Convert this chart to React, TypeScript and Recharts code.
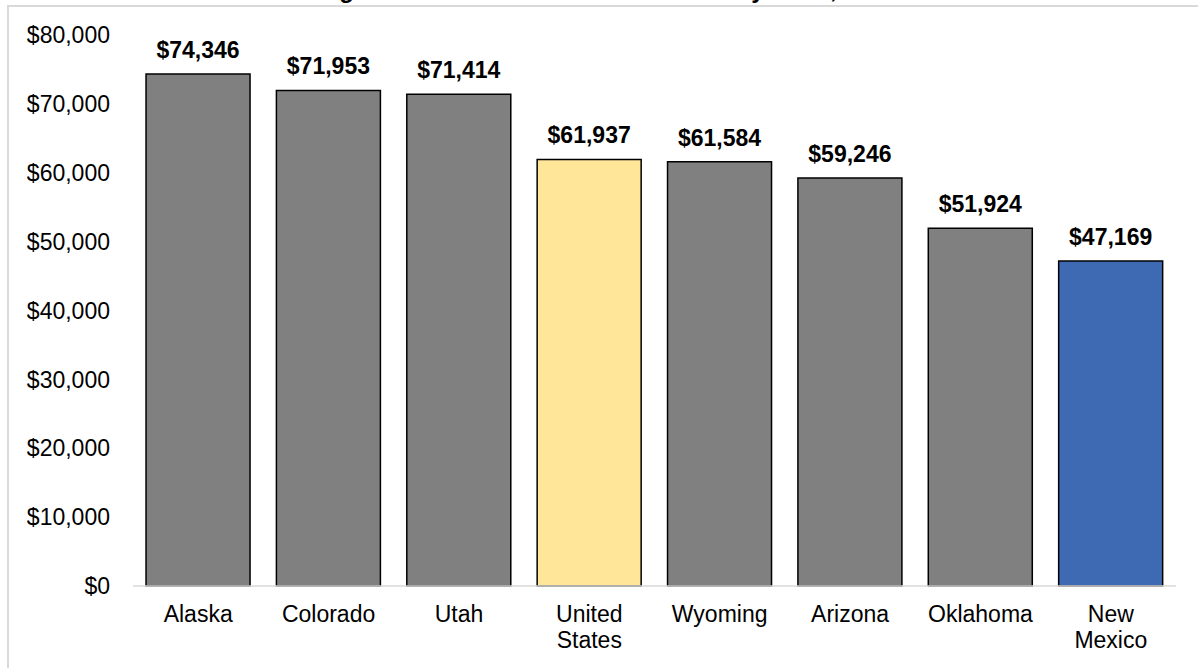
import { BarChart, Bar, XAxis, YAxis, Cell, LabelList } from "recharts";

const states = [
  "Alaska",
  "Colorado",
  "Utah",
  "United States",
  "Wyoming",
  "Arizona",
  "Oklahoma",
  "New Mexico",
];
const incomes = [74346, 71953, 71414, 61937, 61584, 59246, 51924, 47169];
const barColors = [
  "#808080",
  "#808080",
  "#808080",
  "#FFE699",
  "#808080",
  "#808080",
  "#808080",
  "#3E6AB3",
];
const yTicks = [0, 10000, 20000, 30000, 40000, 50000, 60000, 70000, 80000];
const title = "Figure 1: Median Household Income by State, 2018";

const FONT = '"Liberation Sans", Arial, sans-serif';

const data = states.map((name, i) => ({ name, value: incomes[i], color: barColors[i] }));

const money = (v: number) => "$" + v.toLocaleString("en-US");

function StateTick({ x, y, payload }: any) {
  const lines = String(payload.value).split(" ");
  return (
    <text x={x} y={y} textAnchor="middle" fontSize={23} fontFamily={FONT} fill="#000">
      {lines.map((l, i) => (
        <tspan key={l} x={x} dy={i === 0 ? 34 : 26}>
          {l}
        </tspan>
      ))}
    </text>
  );
}

export default function App() {
  return (
    <div
      style={{
        position: "absolute",
        left: 0,
        top: 0,
        width: 1198,
        height: 668,
        overflow: "hidden",
        background: "#fff",
        fontFamily: FONT,
      }}
    >
      <div
        style={{
          position: "absolute",
          left: 7,
          top: 5,
          width: 1240,
          height: 720,
          border: "2px solid #d9d9d9",
        }}
      />
      {/* title sits mostly above the visible area, as in the source screenshot */}
      <svg width={1198} height={12} style={{ position: "absolute", left: 0, top: 0 }}>
        <text x={318} y={-2} fontSize={24} fontWeight="bold" fontFamily={FONT} fill="#000">
          {title}
        </text>
      </svg>
      <div style={{ position: "absolute", left: 0, top: 0 }}>
        <BarChart
          width={1198}
          height={668}
          data={data}
          margin={{ top: 35, right: 22, bottom: 0, left: 0 }}
          barCategoryGap="10%"
        >
          <XAxis
            dataKey="name"
            height={82}
            interval={0}
            tickLine={false}
            tickSize={0}
            tick={<StateTick />}
            axisLine={{ stroke: "#d9d9d9", strokeWidth: 1.5 }}
          />
          <YAxis
            width={133}
            domain={[0, 80000]}
            ticks={yTicks}
            interval={0}
            axisLine={false}
            tickLine={false}
            tickMargin={17}
            tickFormatter={money}
            tick={{ fontSize: 23, fill: "#000", fontFamily: FONT }}
          />
          <Bar dataKey="value" stroke="#000" strokeWidth={1.5} isAnimationActive={false}>
            {data.map((d) => (
              <Cell key={d.name} fill={d.color} />
            ))}
            <LabelList
              dataKey="value"
              position="top"
              offset={16}
              formatter={(v: any) => money(Number(v))}
              style={{ fontSize: 23, fontWeight: "bold", fill: "#000", fontFamily: FONT }}
            />
          </Bar>
        </BarChart>
      </div>
    </div>
  );
}
